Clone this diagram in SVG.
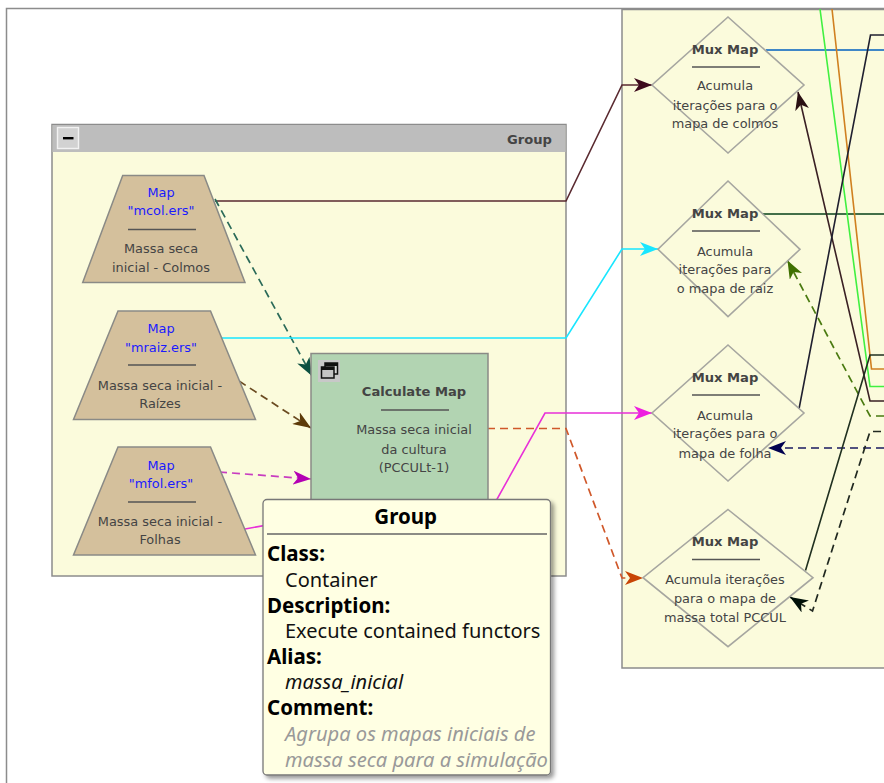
<svg xmlns="http://www.w3.org/2000/svg" width="884" height="783" viewBox="0 0 884 783">
<style>
text{font-family:"DejaVu Sans","Liberation Sans",sans-serif;font-size:12.9px;fill:#444;text-anchor:middle}
.t{font-weight:bold;font-size:13.1px}
.b{fill:#1a1aff}
.frame{fill:#fbfbdc;stroke:#8c8c8c;stroke-width:1.5}
.trap{fill:#d4c09c;stroke:#8a8a86;stroke-width:1.5}
.dia{fill:none;stroke:#a6a6a0;stroke-width:1.6}
.div{stroke:#555;stroke-width:1.4;fill:none}
.c{fill:none;stroke-width:1.6}
.d{stroke-dasharray:8 5;stroke-width:1.7}
.tt text{font-family:"Noto Sans","DejaVu Sans",sans-serif;font-size:20px;fill:#111;text-anchor:start}
.tt .h{font-weight:bold;fill:#000;font-size:20.5px}
.tt .g{font-style:italic;fill:#999;font-size:20.1px}
</style>
<defs>
<filter id="sh" x="-5%" y="-5%" width="112%" height="112%"><feDropShadow dx="3" dy="3" stdDeviation="2" flood-color="#000" flood-opacity=".4"/></filter>
<marker id="a1" markerUnits="userSpaceOnUse" markerWidth="18" markerHeight="14" refX="18" refY="7" orient="auto" viewBox="0 0 18 14"><path d="M18,7 L0,0 L5,7 L0,14z" fill="#3d0a1c"/></marker>
<marker id="a2" markerUnits="userSpaceOnUse" markerWidth="18" markerHeight="14" refX="18" refY="7" orient="auto" viewBox="0 0 18 14"><path d="M18,7 L0,0 L5,7 L0,14z" fill="#0c5040"/></marker>
<marker id="a3" markerUnits="userSpaceOnUse" markerWidth="18" markerHeight="14" refX="18" refY="7" orient="auto" viewBox="0 0 18 14"><path d="M18,7 L0,0 L5,7 L0,14z" fill="#19e6ff"/></marker>
<marker id="a4" markerUnits="userSpaceOnUse" markerWidth="18" markerHeight="14" refX="18" refY="7" orient="auto" viewBox="0 0 18 14"><path d="M18,7 L0,0 L5,7 L0,14z" fill="#5c3a08"/></marker>
<marker id="a5" markerUnits="userSpaceOnUse" markerWidth="18" markerHeight="14" refX="18" refY="7" orient="auto" viewBox="0 0 18 14"><path d="M18,7 L0,0 L5,7 L0,14z" fill="#b400b4"/></marker>
<marker id="a6" markerUnits="userSpaceOnUse" markerWidth="18" markerHeight="14" refX="18" refY="7" orient="auto" viewBox="0 0 18 14"><path d="M18,7 L0,0 L5,7 L0,14z" fill="#ee1ee0"/></marker>
<marker id="a7" markerUnits="userSpaceOnUse" markerWidth="18" markerHeight="14" refX="18" refY="7" orient="auto" viewBox="0 0 18 14"><path d="M18,7 L0,0 L5,7 L0,14z" fill="#c84405"/></marker>
<marker id="a8" markerUnits="userSpaceOnUse" markerWidth="18" markerHeight="14" refX="18" refY="7" orient="auto" viewBox="0 0 18 14"><path d="M18,7 L0,0 L5,7 L0,14z" fill="#2a1014"/></marker>
<marker id="a9" markerUnits="userSpaceOnUse" markerWidth="18" markerHeight="14" refX="18" refY="7" orient="auto" viewBox="0 0 18 14"><path d="M18,7 L0,0 L5,7 L0,14z" fill="#3f7000"/></marker>
<marker id="a10" markerUnits="userSpaceOnUse" markerWidth="18" markerHeight="14" refX="18" refY="7" orient="auto" viewBox="0 0 18 14"><path d="M18,7 L0,0 L5,7 L0,14z" fill="#000050"/></marker>
<marker id="a11" markerUnits="userSpaceOnUse" markerWidth="18" markerHeight="14" refX="18" refY="7" orient="auto" viewBox="0 0 18 14"><path d="M18,7 L0,0 L5,7 L0,14z" fill="#001008"/></marker>
</defs>
<rect width="884" height="783" fill="#fff"/>
<path d="M6.500,783 V8.500 H884" fill="none" stroke="#8c8c8c" stroke-width="1.500"/>

<g id="container-left">
<rect class="frame" x="52" y="124.500" width="514" height="451.500"/>
<rect x="52.500" y="125" width="513" height="27" fill="#bdbdbd"/>
<rect x="57.500" y="127.500" width="21" height="21" fill="#d2d2d2" stroke="#f2f2f2" stroke-width="1.400"/>
<rect x="63" y="137" width="10.500" height="2.400" fill="#000"/>
<text class="t" x="529.500" y="144">Group</text>
</g>
<g id="container-right">
<path class="frame" d="M884,9.500 H622 V668 H884"/>
</g>

<g id="connectors">
<path class="c" stroke="#5a2a30" d="M215,201 H566 L622,85 H652" marker-end="url(#a1)"/>
<path class="c d" stroke="#2a6a58" d="M215,199 L312,376" marker-end="url(#a2)"/>
<path class="c" stroke="#19e6ff" d="M221,338 H566 L622,249 H658" marker-end="url(#a3)"/>
<path class="c d" stroke="#6a4a20" d="M239,381 L311,428" marker-end="url(#a4)"/>
<path class="c d" stroke="#c83cc0" d="M219,472 L311,479" marker-end="url(#a5)"/>
<path class="c" stroke="#e830d8" d="M245,529 L400,501 L491,510 L545,413 H652" marker-end="url(#a6)"/>
<path class="c d" stroke="#d0582a" d="M487,428.500 H566 L622,578 H643" marker-end="url(#a7)"/>
<path class="c" stroke="#0060c0" d="M766,50 H884"/>
<path class="c" stroke="#064018" d="M763,214 H884"/>
<path class="c" stroke="#40f040" d="M820,9 L870,386.500 H884"/>
<path class="c" stroke="#d08020" d="M832,9 L871.500,369 H884"/>
<path class="c" stroke="#3a2024" d="M884,401 H870 L798,92" marker-end="url(#a8)"/>
<path class="c" stroke="#202030" d="M799,409 L870.500,35 H884"/>
<path class="c d" stroke="#4a7a10" d="M884,416 H870 L787.500,260.500" marker-end="url(#a9)"/>
<path class="c d" stroke="#1a1a60" d="M884,448 H768" marker-end="url(#a10)"/>
<path class="c" stroke="#203020" d="M805.500,570.500 L870,355 H884"/>
<path class="c d" stroke="#202820" stroke-dashoffset="10" d="M884,431.500 H870 L812.500,611 L790,597" marker-end="url(#a11)"/>
</g>

<g id="map-mcol">
<path class="trap" d="M122.700,175.500 H204 L245,282.500 H82.700z"/>
<text class="b" x="161" y="197">Map</text><text class="b" x="161" y="215">"mcol.ers"</text>
<path class="div" d="M128,229.500 H196"/>
<text x="161" y="253">Massa seca</text><text x="161" y="272">inicial - Colmos</text>
</g>
<g id="map-mraiz">
<path class="trap" d="M118,311 H210.500 L255.500,419.500 H73.500z"/>
<text class="b" x="161" y="333">Map</text><text class="b" x="161" y="352">"mraiz.ers"</text>
<path class="div" d="M128,365 H196"/>
<text x="160" y="390">Massa seca inicial -</text><text x="160" y="408">Raízes</text>
</g>
<g id="map-mfol">
<path class="trap" d="M118,447 H210.500 L255.500,555 H73.500z"/>
<text class="b" x="161" y="470">Map</text><text class="b" x="161" y="488">"mfol.ers"</text>
<path class="div" d="M128,502 H196"/>
<text x="160" y="526">Massa seca inicial -</text><text x="160" y="544">Folhas</text>
</g>
<g id="calculate-map">
<rect x="311" y="353.500" width="177" height="160" fill="#b2d4b2" stroke="#8a8a86" stroke-width="1.500"/>
<rect x="318" y="360" width="22" height="22" fill="#c8c8c8"/>
<rect x="325" y="363" width="12.500" height="11" fill="#d8d8d8" stroke="#111" stroke-width="1.500"/>
<rect x="325" y="363" width="12.500" height="3" fill="#111"/>
<rect x="321.500" y="367" width="12.500" height="11" fill="#c4c4c4" stroke="#111" stroke-width="1.500"/>
<rect x="321.500" y="367" width="12.500" height="3" fill="#111"/>
<text class="t" x="414" y="396">Calculate Map</text>
<path class="div" d="M381,410 H449"/>
<text x="414" y="434">Massa seca inicial</text><text x="414" y="454">da cultura</text><text x="414" y="472">(PCCULt-1)</text>
</g>

<g id="mux-colmos">
<path class="dia" d="M728,17 L804,85 L728,153 L652,85z"/>
<text class="t" x="725" y="54">Mux Map</text>
<path class="div" d="M692,67 H760"/>
<text x="725" y="90">Acumula</text><text x="725" y="110">iterações para o</text><text x="725" y="128">mapa de colmos</text>
</g>
<g id="mux-raiz">
<path class="dia" d="M728,181 L800,249.300 L728,316.700 L658,249.300z"/>
<text class="t" x="725" y="218">Mux Map</text>
<path class="div" d="M692,231 H760"/>
<text x="725" y="256">Acumula</text><text x="725" y="274">iterações para</text><text x="725" y="293">o mapa de raiz</text>
</g>
<g id="mux-folha">
<path class="dia" d="M728,345 L804,413 L728,481 L652,413z"/>
<text class="t" x="725" y="382">Mux Map</text>
<path class="div" d="M692,395 H760"/>
<text x="725" y="420">Acumula</text><text x="725" y="438">iterações para o</text><text x="725" y="458">mapa de folha</text>
</g>
<g id="mux-total">
<path class="dia" d="M728,509.500 L813,577.700 L728,646.700 L643,577.700z"/>
<text class="t" x="725" y="546">Mux Map</text>
<path class="div" d="M692,559.500 H760"/>
<text x="725" y="584">Acumula iterações</text><text x="725" y="603">para o mapa de</text><text x="725" y="622">massa total PCCUL</text>
</g>

<g id="tooltip" class="tt">
<rect x="263" y="499.500" width="287.500" height="275.500" rx="4" fill="#ffffe3" stroke="#777" stroke-width="1.300" filter="url(#sh)"/>
<text class="h" x="405.700" y="524" style="text-anchor:middle">Group</text>
<path d="M267,534 H547" stroke="#666" stroke-width="1.300"/>
<text class="h" x="267" y="561">Class:</text>
<text x="285" y="586.700">Container</text>
<text class="h" x="267" y="612.500">Description:</text>
<text x="285" y="638">Execute contained functors</text>
<text class="h" x="267" y="663.500">Alias:</text>
<text x="285" y="689" font-style="italic">massa_inicial</text>
<text class="h" x="267" y="715">Comment:</text>
<text class="g" x="285" y="741">Agrupa os mapas iniciais de</text>
<text class="g" x="285" y="766.500">massa seca para a simulação</text>
</g>
</svg>
